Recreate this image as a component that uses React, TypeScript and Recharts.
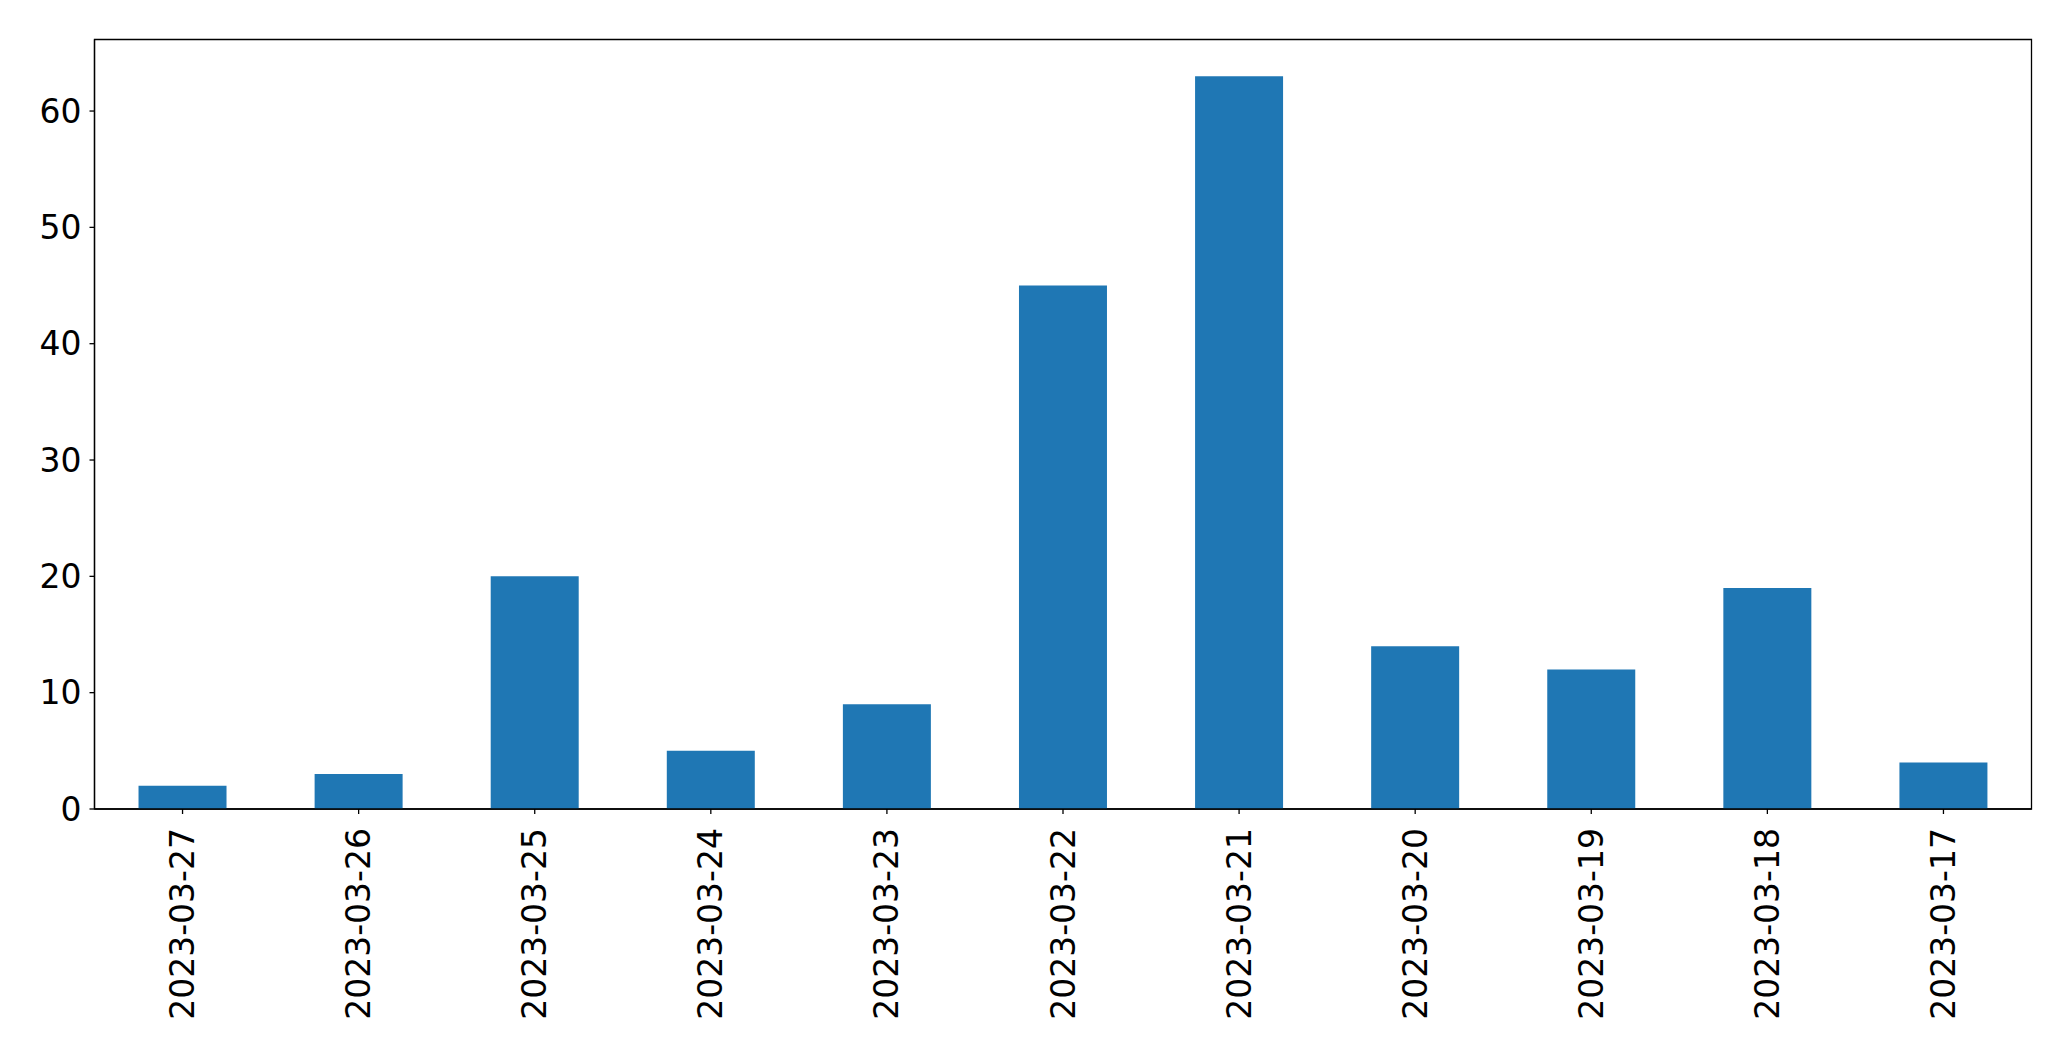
import React from 'react';
import { BarChart, Bar, XAxis, YAxis, ReferenceArea } from 'recharts';

const dates = [
  '2023-03-27',
  '2023-03-26',
  '2023-03-25',
  '2023-03-24',
  '2023-03-23',
  '2023-03-22',
  '2023-03-21',
  '2023-03-20',
  '2023-03-19',
  '2023-03-18',
  '2023-03-17',
];
const counts = [2, 3, 20, 5, 9, 45, 63, 14, 12, 19, 4];
const yTicks = [0, 10, 20, 30, 40, 50, 60];
const yMax = 66.15;

const data = dates.map((d, i) => ({ date: d, count: counts[i] }));

const FONT = '"DejaVu Sans", sans-serif';

const DateTick = (props: any) => {
  const { x, y, payload } = props;
  return (
    <g transform={`translate(${x},${y + 12})`}>
      <text
        transform="rotate(-90)"
        textAnchor="end"
        dy="0.35em"
        fontSize={33}
        fontFamily={FONT}
        fill="#000"
      >
        {payload.value}
      </text>
    </g>
  );
};

export default function App() {
  return (
    <div style={{ position: 'absolute', left: 0, top: 0, background: '#fff' }}>
      <BarChart
        width={2071}
        height={1061}
        data={data}
        margin={{ top: 39.5, right: 39.5, bottom: 0, left: 0 }}
        barCategoryGap="25%"
      >
        <XAxis
          dataKey="date"
          height={252}
          interval={0}
          tick={<DateTick />}
          tickSize={5}
          axisLine={{ stroke: '#000', strokeWidth: 1.3 }}
          tickLine={{ stroke: '#000', strokeWidth: 1.3 }}
        />
        <YAxis
          width={94.5}
          domain={[0, yMax]}
          ticks={yTicks}
          allowDataOverflow
          tickSize={5}
          tickMargin={8}
          tick={{ fontSize: 33, fontFamily: FONT, fill: '#000' }}
          axisLine={{ stroke: '#000', strokeWidth: 1.3 }}
          tickLine={{ stroke: '#000', strokeWidth: 1.3 }}
        />
        <Bar dataKey="count" fill="#1f77b4" isAnimationActive={false} />
        <ReferenceArea
          x1={dates[0]}
          x2={dates[dates.length - 1]}
          y1={0}
          y2={yMax}
          fill="none"
          fillOpacity={0}
          stroke="#000"
          strokeWidth={1.3}
          ifOverflow="visible"
        />
      </BarChart>
    </div>
  );
}
